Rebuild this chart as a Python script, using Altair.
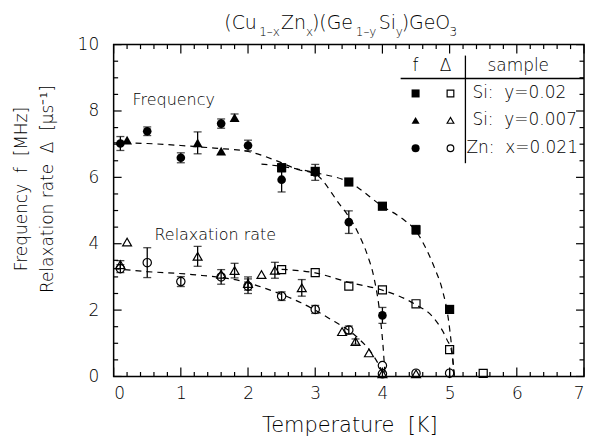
import altair as alt
import pandas as pd

W, H = 472, 333
FONT = "DejaVu Sans"
FW = 300
NB = "\u00a0"

# ---------------- data ----------------
# Frequency f [MHz]
fsq_T = [2.5, 3.0, 3.5, 4.0, 4.5, 5.0]                 # Si: y=0.02 (filled squares)
fsq_v = [6.29, 6.18, 5.86, 5.13, 4.42, 2.02]
fsq_e = [0.12, 0.10, 0.0, 0.0, 0.13, 0.10]

ftr_T = [0.2, 1.25, 1.6, 1.8]                           # Si: y=0.007 (filled triangles)
ftr_v = [7.12, 7.04, 6.79, 7.80]
ftr_e = [0.0, 0.33, 0.0, 0.11]

fci_T = [0.1, 0.5, 1.0, 1.6, 2.0, 2.5, 3.0, 3.5, 4.0]   # Zn: x=0.021 (filled circles)
fci_v = [7.02, 7.39, 6.59, 7.62, 6.96, 5.93, 6.15, 4.65, 1.84]
fci_e = [0.21, 0.13, 0.15, 0.14, 0.16, 0.37, 0.24, 0.34, 0.24]

# Relaxation rate Delta [1/us]
rsq_T = [2.5, 3.0, 3.5, 4.0, 4.5, 5.0, 5.5]
rsq_v = [3.22, 3.13, 2.72, 2.61, 2.19, 0.81, 0.09]
rsq_e = [0, 0, 0, 0, 0, 0, 0]

rtr_T = [0.1, 0.2, 1.25, 1.6, 1.8, 2.0, 2.2, 2.4, 2.8, 3.4, 3.6, 3.8, 4.0, 4.5]
rtr_v = [3.37, 4.05, 3.62, 3.08, 3.19, 2.80, 3.07, 3.20, 2.67, 1.35, 1.05, 0.71, 0.08, 0.08]
rtr_e = [0.12, 0, 0.30, 0, 0.22, 0.20, 0, 0.24, 0.25, 0, 0.08, 0, 0, 0]

rci_T = [0.1, 0.5, 1.0, 1.6, 2.0, 2.5, 3.0, 3.5, 4.0, 4.0, 4.5, 5.0]
rci_v = [3.25, 3.43, 2.86, 3.00, 2.72, 2.42, 2.02, 1.40, 0.33, 0.08, 0.10, 0.10]
rci_e = [0.12, 0.45, 0.15, 0.22, 0.22, 0.13, 0.12, 0.12, 0, 0, 0, 0.15]

# dashed guide curves (read along the dashes)
c1_T = [0.0, 0.5, 1.0, 1.5, 2.0, 2.4, 2.75, 3.0, 3.33, 3.63, 3.78, 3.87, 3.97, 4.01, 4.04]
c1_v = [7.04, 7.02, 6.96, 6.88, 6.78, 6.52, 6.23, 6.10, 5.28, 4.36, 3.64, 3.02, 1.75, 0.9, 0.0]
c2_T = [2.2, 2.5, 3.0, 3.5, 4.0, 4.3, 4.5, 4.65, 4.78, 4.9, 4.98, 5.03, 5.07]
c2_v = [6.40, 6.33, 6.14, 5.86, 5.13, 4.75, 4.38, 3.85, 3.25, 2.55, 1.75, 0.9, 0.0]
c3_T = [2.5, 3.0, 3.53, 3.97, 4.49, 4.76, 4.96, 5.03, 5.07]
c3_v = [3.23, 3.12, 2.82, 2.62, 2.17, 1.77, 1.11, 0.75, 0.0]
c4_T = [0.0, 0.43, 1.17, 1.91, 2.4, 2.79, 3.19, 3.63, 3.82, 3.97, 4.03]
c4_v = [3.25, 3.17, 3.07, 2.87, 2.55, 2.22, 1.77, 1.17, 0.76, 0.26, 0.0]

x_major = [0, 1, 2, 3, 4, 5, 6, 7]
x_minor = [round(0.2 * i, 1) for i in range(1, 35) if i % 5 != 0]
y_major = [0, 2, 4, 6, 8, 10]
y_minor = [0.5 * i for i in range(1, 20) if i % 4 != 0]

# ---------------- tables ----------------
def tab(T, v, e, s):
    return pd.DataFrame({"T": T, "v": v, "e": e, "s": s})

pts = pd.concat([
    tab(fsq_T, fsq_v, fsq_e, "fsq"), tab(ftr_T, ftr_v, ftr_e, "ftr"), tab(fci_T, fci_v, fci_e, "fci"),
    tab(rsq_T, rsq_v, rsq_e, "rsq"), tab(rtr_T, rtr_v, rtr_e, "rtr"), tab(rci_T, rci_v, rci_e, "rci"),
], ignore_index=True)
err = pts[pts["e"] > 0].copy()
err["lo"] = err["v"] - err["e"]
err["hi"] = err["v"] + err["e"]
err["cap"] = 1
err.loc[(err["s"] == "rci") & (err["T"] == 5.0), "cap"] = 0
capped = err[err["cap"] == 1]
caps = pd.concat([capped.assign(c=capped["lo"]), capped.assign(c=capped["hi"])], ignore_index=True)

curves = pd.concat([
    pd.DataFrame({"T": c1_T, "v": c1_v, "c": "c1"}), pd.DataFrame({"T": c2_T, "v": c2_v, "c": "c2"}),
    pd.DataFrame({"T": c3_T, "v": c3_v, "c": "c3"}), pd.DataFrame({"T": c4_T, "v": c4_v, "c": "c4"}),
], ignore_index=True)
curves["i"] = range(len(curves))

sx = alt.Scale(domain=[0, 7], nice=False, zero=False)
sy = alt.Scale(domain=[0, 10], nice=False, zero=False)
ax_x = alt.Axis(values=x_major, title=None, labelFontSize=17, labelPadding=9, labelFont=FONT, labelFontWeight=FW, tickSize=0, labelColor="black")
ax_y = alt.Axis(values=y_major, title=None, labelFontSize=17, labelPadding=15, labelFont=FONT, labelFontWeight=FW, tickSize=0, labelColor="black")

def X(f):
    return alt.X(f, type="quantitative", scale=sx, axis=ax_x)

def Y(f):
    return alt.Y(f, type="quantitative", scale=sy, axis=ax_y)

layers = []

# dashed curves
layers.append(alt.Chart(curves).mark_line(color="black", strokeWidth=1.2, strokeDash=[6, 5], interpolate="monotone").encode(
    x=X("T"), y=Y("v"), detail="c:N", order="i:Q"))

# error bars
layers.append(alt.Chart(err).mark_rule(color="black", strokeWidth=1.3).encode(x=X("T"), y=Y("lo"), y2="hi"))
layers.append(alt.Chart(caps).mark_tick(color="black", orient="horizontal", size=8, thickness=1.3).encode(x=X("T"), y=Y("c")))

shape_map = {"fsq": "square", "ftr": "triangle-up", "fci": "circle", "rsq": "square", "rtr": "triangle-up", "rci": "circle"}
size_map = {"fsq": 85, "ftr": 100, "fci": 75, "rsq": 65, "rtr": 80, "rci": 70}
for s in ["rsq", "rtr", "rci"]:
    layers.append(alt.Chart(pts[pts["s"] == s]).mark_point(shape=shape_map[s], size=size_map[s], filled=False, color="black", strokeWidth=1.2, opacity=1).encode(x=X("T"), y=Y("v")))
for s in ["fsq", "ftr", "fci"]:
    layers.append(alt.Chart(pts[pts["s"] == s]).mark_point(shape=shape_map[s], size=size_map[s], filled=True, color="black", opacity=1).encode(x=X("T"), y=Y("v")))

# inward ticks on all four sides
xt_major = pd.DataFrame({"t": x_major})
xt_minor = pd.DataFrame({"t": x_minor})
yt_major = pd.DataFrame({"t": y_major})
yt_minor = pd.DataFrame({"t": y_minor})
for df, L in [(xt_major, 9), (xt_minor, 4.5)]:
    layers.append(alt.Chart(df).mark_rule(color="black", strokeWidth=1.2).encode(x=X("t"), y=alt.value(H), y2=alt.value(H - L)))
    layers.append(alt.Chart(df).mark_rule(color="black", strokeWidth=1.2).encode(x=X("t"), y=alt.value(0), y2=alt.value(L)))
for df, L in [(yt_major, 8), (yt_minor, 4.5)]:
    layers.append(alt.Chart(df).mark_rule(color="black", strokeWidth=1.2).encode(y=Y("t"), x=alt.value(0), x2=alt.value(L)))
    layers.append(alt.Chart(df).mark_rule(color="black", strokeWidth=1.2).encode(y=Y("t"), x=alt.value(W), x2=alt.value(W - L)))

one = pd.DataFrame({"a": [0]})

def txt(s, x, y, size=17, align="left", baseline="middle", angle=0):
    kw = dict(text=s, fontSize=size, font=FONT, fontWeight=FW, align=align, baseline=baseline, color="black")
    if angle:
        kw["angle"] = angle
    return alt.Chart(one).mark_text(**kw).encode(x=alt.value(x), y=alt.value(y))

# title with sub-scripts
title_parts = [("(Cu", 111, False), ("1–x", 146, True), ("Zn", 168, False), ("x", 193, True),
               (")(Ge", 199, False), ("1–y", 243, True), ("Si", 266, False), ("y", 283, True),
               (")GeO", 289, False), ("3", 337, True)]
for s, x, sub in title_parts:
    if sub:
        layers.append(txt(s, x, -9, size=12, baseline="alphabetic"))
    else:
        layers.append(txt(s, x, -16, size=19, baseline="alphabetic"))

# axis titles
layers.append(txt("Temperature" + NB + NB + "[K]", 237, 389, size=21, align="center", baseline="alphabetic"))
layers.append(txt("Frequency" + NB + NB + "f" + NB + NB + "[MHz]", -92, 145, size=17, align="center", angle=270))
layers.append(txt("Relaxation rate" + NB + NB + "Δ" + NB + NB + "[μs⁻¹]", -66, 145, size=17, align="center", angle=270))

# annotations
layers.append(txt("Frequency", 19, 61, size=16, baseline="alphabetic"))
layers.append(txt("Relaxation rate", 41, 196, size=16, baseline="alphabetic"))

# legend table
layers.append(alt.Chart(one).mark_rule(color="black", strokeWidth=1.3).encode(x=alt.value(288), x2=alt.value(W), y=alt.value(34)))
layers.append(alt.Chart(one).mark_rule(color="black", strokeWidth=1.3).encode(x=alt.value(353), y=alt.value(11), y2=alt.value(119)))
layers.append(txt("f", 303, 21, size=17, align="center"))
layers.append(txt("Δ", 333, 21, size=17, align="center"))
layers.append(txt("sample", 406, 21, size=17, align="center"))
rows = [("square", "Si:" + NB + NB + "y=0.02", 360, 49), ("triangle-up", "Si:" + NB + NB + "y=0.007", 360, 76),
        ("circle", "Zn:" + NB + NB + "x=0.021", 354, 104)]
for shp, lab, tx, ty in rows:
    layers.append(alt.Chart(one).mark_point(shape=shp, size=65, filled=True, color="black", opacity=1).encode(x=alt.value(303), y=alt.value(ty)))
    layers.append(alt.Chart(one).mark_point(shape=shp, size=45, filled=False, color="black", strokeWidth=1.2, opacity=1).encode(x=alt.value(338), y=alt.value(ty)))
    layers.append(txt(lab, tx, ty, size=17))

chart = alt.layer(*layers).properties(
    width=W, height=H,
    autosize=alt.AutoSizeParams(type="none"),
    padding={"left": 106, "top": 36, "right": 1, "bottom": 60},
).configure_view(stroke="black", strokeWidth=1.5).configure_axis(
    domain=False, grid=False, ticks=False
)

chart.save("out.html", embed_options={"renderer": "svg", "actions": False})
